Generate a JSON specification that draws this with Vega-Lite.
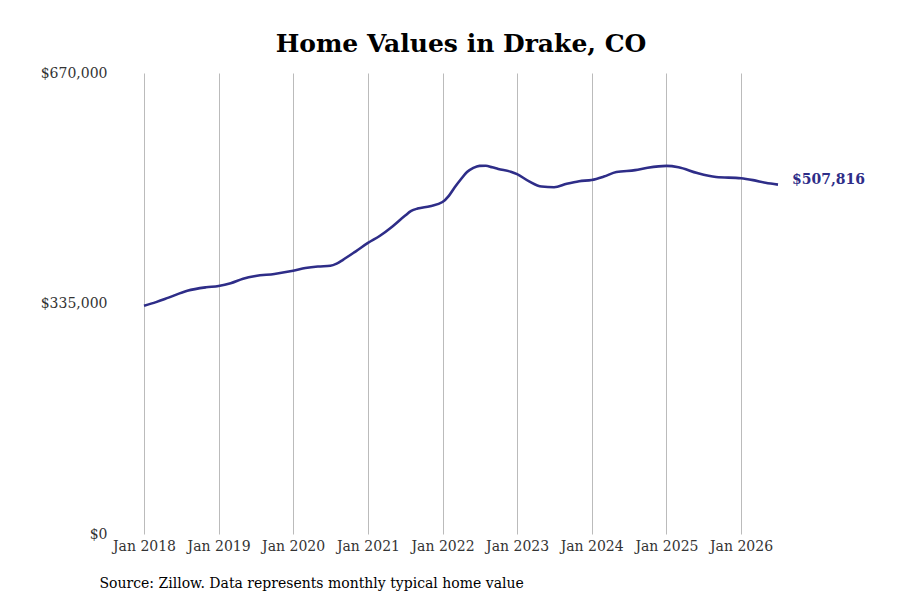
{
  "$schema": "https://vega.github.io/schema/vega-lite/v6.json",
  "autosize": "none",
  "width": 634,
  "height": 461,
  "padding": {"left": 144, "top": 73, "right": 122, "bottom": 66},
  "title": {
    "text": "Home Values in Drake, CO",
    "font": "DejaVu Serif",
    "fontSize": 25,
    "fontWeight": "bold",
    "color": "#000000",
    "anchor": "middle",
    "offset": 9
  },
  "data": {
    "values": [
      {"date": "2018-01-01", "value": 331800},
      {"date": "2018-03-01", "value": 337000},
      {"date": "2018-05-01", "value": 343500},
      {"date": "2018-08-01", "value": 353500},
      {"date": "2018-11-01", "value": 358500},
      {"date": "2019-01-01", "value": 360500},
      {"date": "2019-03-01", "value": 364500},
      {"date": "2019-05-01", "value": 371000},
      {"date": "2019-07-01", "value": 375000},
      {"date": "2019-10-01", "value": 378000},
      {"date": "2020-01-01", "value": 382500},
      {"date": "2020-03-01", "value": 386500},
      {"date": "2020-05-01", "value": 388800},
      {"date": "2020-07-01", "value": 389800},
      {"date": "2020-08-01", "value": 393000},
      {"date": "2020-09-01", "value": 398500},
      {"date": "2020-11-01", "value": 410500},
      {"date": "2021-01-01", "value": 423000},
      {"date": "2021-03-01", "value": 433500},
      {"date": "2021-05-01", "value": 447000},
      {"date": "2021-07-01", "value": 462500},
      {"date": "2021-08-01", "value": 469500},
      {"date": "2021-09-01", "value": 473000},
      {"date": "2021-11-01", "value": 476500},
      {"date": "2022-01-01", "value": 482500},
      {"date": "2022-02-01", "value": 491500},
      {"date": "2022-03-01", "value": 503500},
      {"date": "2022-04-01", "value": 515500},
      {"date": "2022-05-01", "value": 526000},
      {"date": "2022-06-01", "value": 532000},
      {"date": "2022-07-01", "value": 535000},
      {"date": "2022-08-01", "value": 535300},
      {"date": "2022-09-01", "value": 533000},
      {"date": "2022-10-01", "value": 530500},
      {"date": "2022-12-01", "value": 526500},
      {"date": "2023-01-01", "value": 523000},
      {"date": "2023-03-01", "value": 512500},
      {"date": "2023-05-01", "value": 505000},
      {"date": "2023-07-01", "value": 504000},
      {"date": "2023-09-01", "value": 509000},
      {"date": "2023-11-01", "value": 512800},
      {"date": "2024-01-01", "value": 514500},
      {"date": "2024-03-01", "value": 519500},
      {"date": "2024-05-01", "value": 526000},
      {"date": "2024-08-01", "value": 528800},
      {"date": "2024-10-01", "value": 532200},
      {"date": "2025-01-01", "value": 535000},
      {"date": "2025-03-01", "value": 533000},
      {"date": "2025-06-01", "value": 524500},
      {"date": "2025-09-01", "value": 518800},
      {"date": "2026-01-01", "value": 517000},
      {"date": "2026-03-01", "value": 514300},
      {"date": "2026-05-01", "value": 510500},
      {"date": "2026-07-01", "value": 507816}
    ]
  },
  "encoding": {
    "x": {
      "field": "date",
      "type": "temporal",
      "scale": {
        "type": "utc",
        "domain": [
          {"year": 2018, "month": 1, "date": 1, "utc": true},
          {"year": 2026, "month": 7, "date": 1, "utc": true}
        ]
      },
      "axis": {
        "format": "%b %Y",
        "tickCount": {"interval": "year", "step": 1},
        "grid": true,
        "gridColor": "#bbbbbb",
        "gridWidth": 1,
        "domain": false,
        "ticks": false,
        "labelPadding": 5,
        "labelFlush": false,
        "labelFont": "DejaVu Serif",
        "labelFontSize": 14,
        "labelColor": "#333333",
        "title": "Source: Zillow. Data represents monthly typical home value",
        "titleFont": "DejaVu Serif",
        "titleFontSize": 14,
        "titleFontWeight": "normal",
        "titleColor": "#000000",
        "titleAnchor": "start",
        "titleAlign": "left",
        "titleBaseline": "middle",
        "titleX": -45,
        "titleY": 49
      }
    },
    "y": {
      "field": "value",
      "type": "quantitative",
      "scale": {"domain": [0, 670000], "nice": false},
      "axis": {
        "values": [0, 335000, 670000],
        "format": "$,.0f",
        "grid": false,
        "domain": false,
        "ticks": false,
        "labelPadding": 37,
        "labelFont": "DejaVu Serif",
        "labelFontSize": 14,
        "labelColor": "#333333",
        "title": null
      }
    }
  },
  "layer": [
    {
      "mark": {"type": "line", "interpolate": "monotone", "color": "#2e2d88", "strokeWidth": 2.6}
    },
    {
      "transform": [{"filter": "datum.value == 507816"}],
      "mark": {
        "type": "text",
        "align": "left",
        "baseline": "middle",
        "dx": 14,
        "dy": -5,
        "font": "DejaVu Serif",
        "fontSize": 14,
        "fontWeight": "bold",
        "color": "#2e2d88"
      },
      "encoding": {
        "text": {"field": "value", "type": "quantitative", "format": "$,.0f"}
      }
    }
  ],
  "config": {
    "view": {"stroke": null}
  }
}
